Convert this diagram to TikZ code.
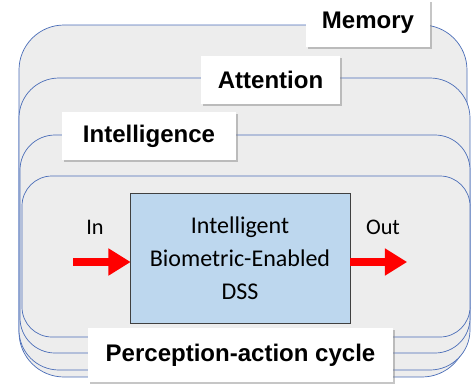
\documentclass[tikz,border=0pt]{standalone}
\usepackage{fontspec}
\setmainfont{Carlito}
\newfontfamily\labelfont{Liberation Sans}
\usepackage{tikz}
\usetikzlibrary{arrows.meta,positioning,shadows}
\definecolor{layerfill}{HTML}{EDEDED}
\definecolor{layerline}{HTML}{4A6DB8}
\definecolor{dssfill}{HTML}{BDD7EE}
\tikzset{layer/.style={draw=layerline, fill=layerfill, line width=0.6pt},
tag/.style={fill=white, inner sep=0pt, drop shadow={shadow xshift=1.5pt, shadow yshift=-2pt, opacity=0.45},
font=\labelfont\bfseries\fontsize{20.5}{24}\selectfont},
flow/.style={draw=red, line width=7.5pt, -{Triangle[length=19pt, width=22pt]}, shorten >=-1pt}}

\begin{document}
\begin{tikzpicture}[x=0.03cm, y=-0.03cm]
        \useasboundingbox (0,0) rectangle (471,388);
        \draw[layer, rounded corners=1.35cm] (19,25) rectangle (467,377);
        \draw[layer, rounded corners=1.2cm] (19,78) rectangle (470,370);
        \draw[layer, rounded corners=1.05cm] (20,135) rectangle (470,353);
        \draw[layer, rounded corners=0.9cm] (22,176) rectangle (470,337);
        
        \node[tag, minimum width=3.72cm, minimum height=1.41cm] (memory) at (368,23) {Memory};
        \node[tag, minimum width=4.17cm, minimum height=1.44cm] (attention) at (270.5,80) {Attention};
        \node[tag, minimum width=5.22cm, minimum height=1.44cm] (intelligence) at (149,136) {Intelligence};
        
        \node[draw=black!75, fill=dssfill, line width=0.8pt, minimum width=6.6cm, minimum height=3.9cm, align=center,
              font=\fontsize{20.5}{28}\selectfont, drop shadow={shadow xshift=1pt, shadow yshift=-1pt, opacity=0.3}] (dss) at (240,258)
              {Intelligent\\Biometric-Enabled\\DSS};
        \node[tag, minimum width=9.15cm, minimum height=1.62cm] (cycle) at (240.5,355) {Perception-action cycle};
        
        \node[font=\fontsize{19}{22}\selectfont] (in) at (95,227) {In};
        \node[font=\fontsize{19}{22}\selectfont] (out) at (383,227) {Out};
        \coordinate (src) at (73,262);
        \coordinate (dst) at (406,262);
        
        \draw[flow] (src) -- (src -| dss.west);
        \draw[flow] (dss.east |- dst) -- (dst);
    \end{tikzpicture}
\end{document}
